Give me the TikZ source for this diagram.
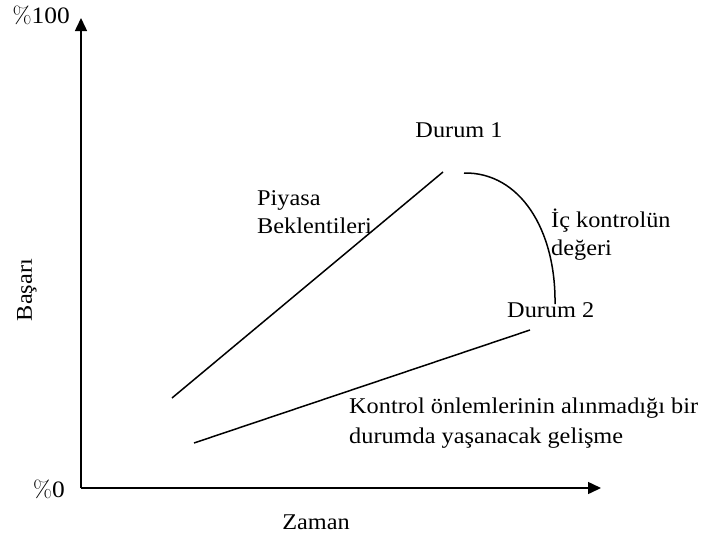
\documentclass[tikz,border=0pt]{standalone}
\usepackage{fontspec}
\setmainfont[FakeStretch=1.08]{Liberation Serif}
\newfontfamily\lmfont[FakeStretch=1.05]{Latin Modern Roman}
\usetikzlibrary{arrows.meta}
\begin{document}
\begin{tikzpicture}[x=1pt,y=-1pt,
  lbl/.style={inner sep=0pt,font=\fontsize{22.5}{28}\selectfont,align=left},
  ln/.style={line width=1.5pt},
  axis/.style={line width=1.5pt,-{Triangle[length=13pt,width=12pt]}}]
\useasboundingbox (0,0) rectangle (709,533);
\coordinate (o) at (81,488);
\coordinate (ytip) at (81,18);
\coordinate (xtip) at (601,488);
\draw[axis] (o) -- (ytip);
\draw[axis] (o) -- (xtip);
\node[lbl,anchor=base east,font=\fontsize{23.5}{28}\selectfont] (p100) at (70,23) {{\lmfont\%}100};
\node[lbl,anchor=base east,font=\fontsize{23.5}{28}\selectfont] (p0) at (65,497) {{\lmfont\%}0};
\node[lbl] (zaman) at (316,522) {Zaman};
\node[lbl,rotate=90] (basari) at (27,290) {Başarı};
\coordinate (a1) at (172,398);
\coordinate (a2) at (443,172);
\coordinate (b1) at (194,443);
\coordinate (b2) at (530,330);
\coordinate (c1) at (464,173);
\coordinate (c2) at (555,304);
\draw[ln] (a1) -- (a2);
\draw[ln] (b1) -- (b2);
\draw[ln] (c1) .. controls (520,172) and (556,230) .. (c2);
\node[lbl] (d1) at (459,130) {Durum 1};
\node[lbl,anchor=north west] (piyasa) at (257,190) {Piyasa\\Beklentileri};
\node[lbl,anchor=north west] (ic) at (551,209) {İç kontrolün\\değeri};
\node[lbl,anchor=west] (d2) at (507,310) {Durum 2};
\node[lbl,anchor=north west,font=\fontsize{22.5}{30}\selectfont] (kontrol) at (349,398) {Kontrol önlemlerinin alınmadığı bir\\durumda yaşanacak gelişme};
\end{tikzpicture}
\end{document}
